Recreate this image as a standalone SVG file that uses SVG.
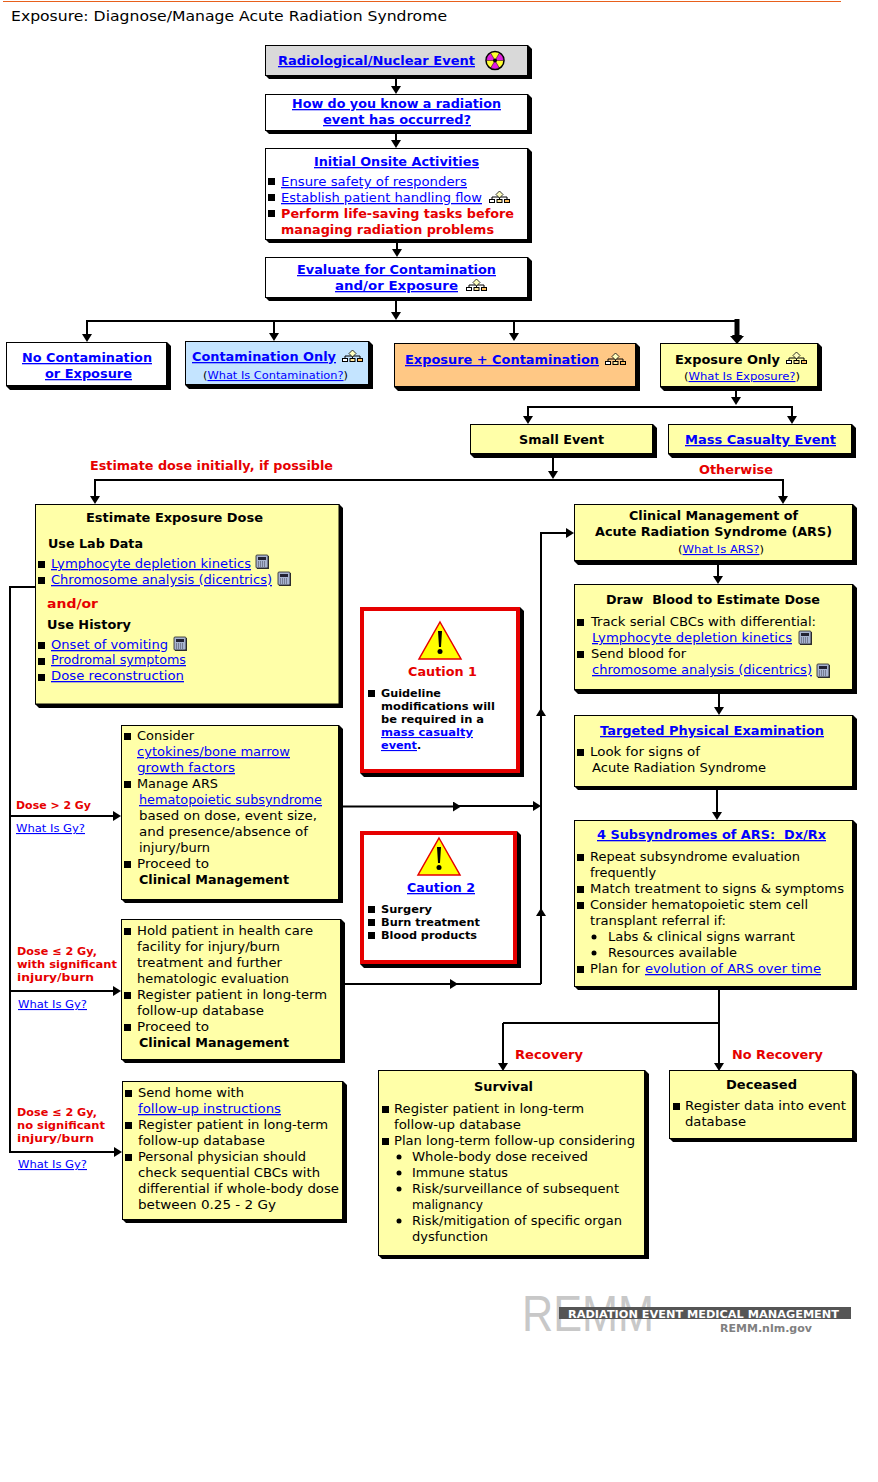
<svg xmlns="http://www.w3.org/2000/svg" width="878" height="1482" viewBox="0 0 878 1482">
<style>
text{font-family:"DejaVu Sans",Verdana,sans-serif;font-size:13px;fill:#000;}
.b{font-weight:bold}
.l{fill:#00f;text-decoration:underline}
.lb{fill:#00f;text-decoration:underline;font-weight:bold}
.r{fill:#e60000;font-weight:bold}
.s{font-size:11px}
.m{font-size:11px;font-weight:bold}
.ml{font-size:11px;font-weight:bold;fill:#00f;text-decoration:underline}
.mr{font-size:11px;font-weight:bold;fill:#e60000}
.box{stroke:#000;stroke-width:1}
.white{fill:#fff}.yel{fill:#ffffa8}.gray{fill:#d9d9d9}.blu{fill:#c4e4ff}.ora{fill:#ffc885}
.line{fill:none;stroke:#000;stroke-width:2}
.arr{marker-end:url(#arrow)}
</style>
<defs>
<marker id="arrow" markerUnits="userSpaceOnUse" viewBox="0 0 8 10" refX="4" refY="5" markerWidth="8" markerHeight="10" orient="auto"><polygon points="0,0 8,5 0,10" fill="#000"/></marker>
<rect id="sq" y="-2" width="7" height="7" fill="#000"/>
<circle id="dot" r="2.5" fill="#000"/>
<g id="flow"><path d="M10.5 3V6M3 10V6H18V10M10.5 6V9" fill="none" stroke="#000" stroke-width="1"/><polygon points="10.5,0 14,3.500 10.500,7 7,3.500" fill="#ffffc0" stroke="#000" stroke-width=".8"/><rect x=".5" y="8.500" width="5" height="3" fill="#fff" stroke="#000"/><rect x="8" y="8.500" width="5" height="3" fill="#ffe8a0" stroke="#000"/><rect x="15.500" y="8.500" width="5" height="3" fill="#ffc060" stroke="#000"/></g>
<g id="calc"><rect x="1" y="1" width="12" height="13" fill="#333"/><rect x="0" y="0" width="12" height="13" rx="1" fill="#a8b4d0" stroke="#222" stroke-width=".8"/><rect x="2" y="2" width="8" height="3" fill="#223"/><path d="M2 7H10M2 9H10M2 11H10" stroke="#445" stroke-width="1" stroke-dasharray="1 1"/></g>
<g id="warn"><polygon points="21,0 42,37 0,37" fill="#ffff00" stroke="#e60000" stroke-width="1.500"/><polygon points="19,9 23,9 22,25 20,25" fill="#000"/><circle cx="21" cy="29.500" r="2.500" fill="#000"/></g>
</defs>
<rect width="878" height="1482" fill="#fff"/>
<line x1="3" y1="1.500" x2="841" y2="1.500" stroke="#e8601c" stroke-width="1"/>
<text id="title" x="11" y="21" style="font-size:14px" textLength="436" lengthAdjust="spacingAndGlyphs">Exposure: Diagnose/Manage Acute Radiation Syndrome</text>

<g id="connectors">
<path class="line arr" d="M396 79V90"/><path class="line arr" d="M396 134V144"/><path class="line arr" d="M397 243V253"/>
<path class="line arr" d="M396 301V316"/>
<path class="line" d="M87 321H737"/>
<path class="line arr" d="M87 320V338"/><path class="line arr" d="M274 320V337"/><path class="line arr" d="M514 320V337"/>
<path class="line arr" d="M737 320V339"/><path d="M737 319V338" stroke="#000" stroke-width="5" fill="none"/><polygon points="730,336 744,336 737,344" fill="#000"/>
<path class="line arr" d="M736 390V401"/>
<path class="line" d="M528 407H792"/>
<path class="line arr" d="M528 406V420"/><path class="line arr" d="M792 406V420"/>
<path class="line arr" d="M553 458V475"/>
<path class="line" d="M95 480H783"/>
<path class="line arr" d="M95 479V500"/><path class="line arr" d="M783 479V500"/>
<path class="line arr" d="M718 565V580"/><path class="line arr" d="M719 694V711"/><path class="line arr" d="M717 790V816"/>
<path class="line" d="M719 990V1023H503"/>
<path class="line arr" d="M503 1023V1067"/><path class="line arr" d="M719 1023V1067"/>
<path class="line arr" d="M541 984V533H570"/>
<path class="line arr" d="M541 720V712"/><path class="line arr" d="M541 920V912"/>
<path class="line arr" d="M343 806.500H457"/><path class="line arr" d="M457 806H537"/>
<path class="line arr" d="M345 984H454"/><path class="line" d="M454 984H541"/>
<path class="line" d="M36 587H10V1152H118"/>
<path class="line arr" d="M10 816H117"/><path class="line arr" d="M10 991H117"/><path class="line arr" d="M110 1152H118"/>
</g>

<g id="n-radiological">
<polygon points="265,45 528,45 532,49 532,79 269,79 265,75" fill="#000"/><rect class="box gray" x="265.500" y="45.500" width="262" height="30"/>
<text class="lb" x="278" y="65" textLength="197" lengthAdjust="spacingAndGlyphs">Radiological/Nuclear Event</text>
<g transform="translate(495 60.500)"><circle r="9" fill="#ffff30" stroke="#000" stroke-width="1.500"/><path d="M0 0L4.250 7.360A8.500 8.500 0 0 1 -4.250 7.360ZM0 0L4.250 -7.360A8.500 8.500 0 0 1 8.500 0ZM0 0L-8.500 0A8.500 8.500 0 0 1 -4.250 -7.360Z" fill="#e020e0" stroke="#000" stroke-width=".5"/><circle r="2" fill="#000"/></g>
</g>
<g id="n-how">
<polygon points="265,94 528,94 532,98 532,134 269,134 265,130" fill="#000"/><rect class="box white" x="265.500" y="94.500" width="262" height="36"/>
<text class="lb" x="292" y="108" textLength="209" lengthAdjust="spacingAndGlyphs">How do you know a radiation</text>
<text class="lb" x="323" y="124" textLength="148" lengthAdjust="spacingAndGlyphs">event has occurred?</text>
</g>
<g id="n-initial">
<polygon points="265,148 528,148 532,152 532,243 269,243 265,239" fill="#000"/><rect class="box white" x="265.500" y="148.500" width="262" height="91"/>
<text class="lb" x="314" y="166" textLength="165" lengthAdjust="spacingAndGlyphs">Initial Onsite Activities</text>
<use href="#sq" x="268" y="180"/><use href="#sq" x="268" y="196"/><use href="#sq" x="268" y="212"/>
<text class="l" x="281" y="186" textLength="186" lengthAdjust="spacingAndGlyphs">Ensure safety of responders</text>
<text class="l" x="281" y="202" textLength="201" lengthAdjust="spacingAndGlyphs">Establish patient handling flow</text>
<use href="#flow" x="489" y="191"/>
<text class="r" x="281" y="218" textLength="233" lengthAdjust="spacingAndGlyphs">Perform life-saving tasks before</text>
<text class="r" x="281" y="234" textLength="213" lengthAdjust="spacingAndGlyphs">managing radiation problems</text>
</g>
<g id="n-evaluate">
<polygon points="265,257 528,257 532,261 532,301 269,301 265,297" fill="#000"/><rect class="box white" x="265.500" y="257.500" width="262" height="40"/>
<text class="lb" x="297" y="274" textLength="199" lengthAdjust="spacingAndGlyphs">Evaluate for Contamination</text>
<text class="lb" x="335" y="290" textLength="123" lengthAdjust="spacingAndGlyphs">and/or Exposure</text>
<use href="#flow" x="466" y="279"/>
</g>
<g id="n-nocontam">
<polygon points="6,342 167,342 171,346 171,390 10,390 6,386" fill="#000"/><rect class="box white" x="6.500" y="342.500" width="160" height="43"/>
<text class="lb" x="22" y="362" textLength="130" lengthAdjust="spacingAndGlyphs">No Contamination</text>
<text class="lb" x="45" y="378" textLength="87" lengthAdjust="spacingAndGlyphs">or Exposure</text>
</g>
<g id="n-contam">
<polygon points="185,341 369,341 373,345 373,389 189,389 185,385" fill="#000"/><rect class="box blu" x="185.500" y="341.500" width="183" height="43"/>
<text class="lb" x="192" y="361" textLength="144" lengthAdjust="spacingAndGlyphs">Contamination Only</text>
<use href="#flow" x="342" y="350"/>
<text class="s" x="203" y="379" textLength="145" lengthAdjust="spacingAndGlyphs">(<tspan class="l">What Is Contamination?</tspan>)</text>
</g>
<g id="n-expcontam">
<polygon points="394,343 636,343 640,347 640,391 398,391 394,387" fill="#000"/><rect class="box ora" x="394.500" y="343.500" width="241" height="43"/>
<text class="lb" x="405" y="364" textLength="194" lengthAdjust="spacingAndGlyphs">Exposure + Contamination</text>
<use href="#flow" x="605" y="353"/>
</g>
<g id="n-exponly">
<polygon points="660,343 818,343 822,347 822,391 664,391 660,387" fill="#000"/><rect class="box yel" x="660.500" y="343.500" width="157" height="43"/>
<text class="b" x="675" y="364" textLength="105" lengthAdjust="spacingAndGlyphs">Exposure Only</text>
<use href="#flow" x="786" y="352"/>
<text class="s" x="684" y="380" textLength="116" lengthAdjust="spacingAndGlyphs">(<tspan class="l">What Is Exposure?</tspan>)</text>
</g>
<g id="n-small">
<polygon points="470,424 653,424 657,428 657,458 474,458 470,454" fill="#000"/><rect class="box yel" x="470.500" y="424.500" width="182" height="29"/>
<text class="b" x="519" y="444" textLength="85" lengthAdjust="spacingAndGlyphs">Small Event</text>
</g>
<g id="n-mass">
<polygon points="668,424 852,424 856,428 856,458 672,458 668,454" fill="#000"/><rect class="box yel" x="668.500" y="424.500" width="183" height="29"/>
<text class="lb" x="685" y="444" textLength="151" lengthAdjust="spacingAndGlyphs">Mass Casualty Event</text>
</g>
<text class="r" x="90" y="470" textLength="243" lengthAdjust="spacingAndGlyphs">Estimate dose initially, if possible</text>
<text class="r" x="699" y="474" textLength="74" lengthAdjust="spacingAndGlyphs">Otherwise</text>
<g id="n-clinical">
<polygon points="574,504 853,504 857,508 857,565 578,565 574,561" fill="#000"/><rect class="box yel" x="574.500" y="504.500" width="278" height="56"/>
<text class="b" x="629" y="520" textLength="169" lengthAdjust="spacingAndGlyphs">Clinical Management of</text>
<text class="b" x="595" y="536" textLength="237" lengthAdjust="spacingAndGlyphs">Acute Radiation Syndrome (ARS)</text>
<text class="s" x="678" y="553" textLength="86" lengthAdjust="spacingAndGlyphs">(<tspan class="l">What Is ARS?</tspan>)</text>
</g>
<g id="n-draw">
<polygon points="574,584 853,584 857,588 857,694 578,694 574,690" fill="#000"/><rect class="box yel" x="574.500" y="584.500" width="278" height="105"/>
<text class="b" x="606" y="604" textLength="214" lengthAdjust="spacingAndGlyphs" xml:space="preserve">Draw  Blood to Estimate Dose</text>
<use href="#sq" x="577" y="621"/><use href="#sq" x="577" y="653"/>
<text x="591" y="626" textLength="225" lengthAdjust="spacingAndGlyphs">Track serial CBCs with differential:</text>
<text class="l" x="592" y="642" textLength="200" lengthAdjust="spacingAndGlyphs">Lymphocyte depletion kinetics</text>
<use href="#calc" x="799" y="631"/>
<text x="591" y="658" textLength="95" lengthAdjust="spacingAndGlyphs">Send blood for</text>
<text class="l" x="592" y="674" textLength="220" lengthAdjust="spacingAndGlyphs">chromosome analysis (dicentrics)</text>
<use href="#calc" x="817" y="664"/>
</g>
<g id="n-targeted">
<polygon points="574,715 853,715 857,719 857,790 578,790 574,786" fill="#000"/><rect class="box yel" x="574.500" y="715.500" width="278" height="71"/>
<text class="lb" x="600" y="735" textLength="224" lengthAdjust="spacingAndGlyphs">Targeted Physical Examination</text>
<use href="#sq" x="577" y="751"/>
<text x="590" y="756" textLength="110" lengthAdjust="spacingAndGlyphs">Look for signs of</text>
<text x="592" y="772" textLength="174" lengthAdjust="spacingAndGlyphs">Acute Radiation Syndrome</text>
</g>
<g id="n-subsyndromes">
<polygon points="574,820 853,820 857,824 857,990 578,990 574,986" fill="#000"/><rect class="box yel" x="574.500" y="820.500" width="278" height="166"/>
<text class="lb" x="597" y="839" textLength="229" lengthAdjust="spacingAndGlyphs" xml:space="preserve">4 Subsyndromes of ARS:  Dx/Rx</text>
<use href="#sq" x="577" y="856"/><use href="#sq" x="577" y="888"/><use href="#sq" x="577" y="904"/><use href="#sq" x="577" y="968"/>
<use href="#dot" x="594" y="937"/><use href="#dot" x="594" y="953"/>
<text x="590" y="861" textLength="210" lengthAdjust="spacingAndGlyphs">Repeat subsyndrome evaluation</text>
<text x="590" y="877" textLength="66" lengthAdjust="spacingAndGlyphs">frequently</text>
<text x="590" y="893" textLength="254" lengthAdjust="spacingAndGlyphs">Match treatment to signs &amp; symptoms</text>
<text x="590" y="909" textLength="218" lengthAdjust="spacingAndGlyphs">Consider hematopoietic stem cell</text>
<text x="590" y="925" textLength="136" lengthAdjust="spacingAndGlyphs">transplant referral if:</text>
<text x="608" y="941" textLength="187" lengthAdjust="spacingAndGlyphs">Labs &amp; clinical signs warrant</text>
<text x="608" y="957" textLength="129" lengthAdjust="spacingAndGlyphs">Resources available</text>
<text x="590" y="973" textLength="50" lengthAdjust="spacingAndGlyphs">Plan for</text>
<text class="l" x="645" y="973" textLength="176" lengthAdjust="spacingAndGlyphs">evolution of ARS over time</text>
</g>
<g id="n-estimate">
<polygon points="35,504 339,504 343,508 343,708 39,708 35,704" fill="#000"/><rect class="box yel" x="35.500" y="504.500" width="303.500" height="199.500"/>
<text class="b" x="86" y="522" textLength="177" lengthAdjust="spacingAndGlyphs">Estimate Exposure Dose</text>
<text class="b" x="48" y="548" textLength="95" lengthAdjust="spacingAndGlyphs">Use Lab Data</text>
<use href="#sq" x="38" y="563"/><use href="#sq" x="38" y="579"/><use href="#sq" x="38" y="644"/><use href="#sq" x="38" y="660"/><use href="#sq" x="38" y="676"/>
<text class="l" x="51" y="568" textLength="200" lengthAdjust="spacingAndGlyphs">Lymphocyte depletion kinetics</text>
<use href="#calc" x="256" y="555"/>
<text class="l" x="51" y="584" textLength="221" lengthAdjust="spacingAndGlyphs">Chromosome analysis (dicentrics)</text>
<use href="#calc" x="278" y="572"/>
<text class="r" x="47" y="608" textLength="51" lengthAdjust="spacingAndGlyphs">and/or</text>
<text class="b" x="47" y="629" textLength="84" lengthAdjust="spacingAndGlyphs">Use History</text>
<text class="l" x="51" y="649" textLength="117" lengthAdjust="spacingAndGlyphs">Onset of vomiting</text>
<use href="#calc" x="174" y="637"/>
<text class="l" x="51" y="664" textLength="135" lengthAdjust="spacingAndGlyphs">Prodromal symptoms</text>
<text class="l" x="51" y="680" textLength="133" lengthAdjust="spacingAndGlyphs">Dose reconstruction</text>
</g>
<g id="n-caution1">
<polygon points="360,607 520,607 524,611 524,777 364,777 360,773" fill="#000"/><rect x="362" y="609" width="156" height="162" fill="#fff" stroke="#e60000" stroke-width="4"/>
<use href="#warn" x="419" y="622"/>
<text x="408" y="676" style="fill:#e60000;font-weight:bold" textLength="69" lengthAdjust="spacingAndGlyphs">Caution 1</text>
<use href="#sq" x="368" y="692"/>
<text class="m" x="381" y="697" textLength="60" lengthAdjust="spacingAndGlyphs">Guideline</text>
<text class="m" x="381" y="710" textLength="114" lengthAdjust="spacingAndGlyphs">modifications will</text>
<text class="m" x="381" y="723" textLength="103" lengthAdjust="spacingAndGlyphs">be required in a</text>
<text class="ml" x="381" y="736" textLength="92" lengthAdjust="spacingAndGlyphs">mass casualty</text>
<text class="ml" x="381" y="749" textLength="36" lengthAdjust="spacingAndGlyphs">event</text><text class="m" x="417" y="749">.</text>
</g>
<g id="n-caution2">
<polygon points="360,831 517,831 521,835 521,968 364,968 360,964" fill="#000"/><rect x="362" y="833" width="153" height="129" fill="#fff" stroke="#e60000" stroke-width="4"/>
<use href="#warn" x="418" y="838"/>
<text class="lb" x="407" y="892" textLength="68" lengthAdjust="spacingAndGlyphs">Caution 2</text>
<use href="#sq" x="368" y="908"/><use href="#sq" x="368" y="921"/><use href="#sq" x="368" y="934"/>
<text class="m" x="381" y="913" textLength="51" lengthAdjust="spacingAndGlyphs">Surgery</text>
<text class="m" x="381" y="926" textLength="99" lengthAdjust="spacingAndGlyphs">Burn treatment</text>
<text class="m" x="381" y="939" textLength="96" lengthAdjust="spacingAndGlyphs">Blood products</text>
</g>
<g id="n-consider">
<polygon points="121,725 339,725 343,729 343,903 125,903 121,899" fill="#000"/><rect class="box yel" x="121.500" y="725.500" width="217" height="174"/>
<use href="#sq" x="124" y="735"/><use href="#sq" x="124" y="783"/><use href="#sq" x="124" y="863"/>
<text x="137" y="740" textLength="57" lengthAdjust="spacingAndGlyphs">Consider</text>
<text class="l" x="137" y="756" textLength="153" lengthAdjust="spacingAndGlyphs">cytokines/bone marrow</text>
<text class="l" x="137" y="772" textLength="98" lengthAdjust="spacingAndGlyphs">growth factors</text>
<text x="137" y="788" textLength="81" lengthAdjust="spacingAndGlyphs">Manage ARS</text>
<text class="l" x="139" y="804" textLength="183" lengthAdjust="spacingAndGlyphs">hematopoietic subsyndrome</text>
<text x="139" y="820" textLength="178" lengthAdjust="spacingAndGlyphs">based on dose, event size,</text>
<text x="139" y="836" textLength="169" lengthAdjust="spacingAndGlyphs">and presence/absence of</text>
<text x="139" y="852" textLength="71" lengthAdjust="spacingAndGlyphs">injury/burn</text>
<text x="137" y="868" textLength="72" lengthAdjust="spacingAndGlyphs">Proceed to</text>
<text class="b" x="139" y="884" textLength="150" lengthAdjust="spacingAndGlyphs">Clinical Management</text>
</g>
<g id="n-hold">
<polygon points="121,919 341,919 345,923 345,1063 125,1063 121,1059" fill="#000"/><rect class="box yel" x="121.500" y="919.500" width="219" height="140"/>
<use href="#sq" x="124" y="930"/><use href="#sq" x="124" y="994"/><use href="#sq" x="124" y="1026"/>
<text x="137" y="935" textLength="176" lengthAdjust="spacingAndGlyphs">Hold patient in health care</text>
<text x="137" y="951" textLength="143" lengthAdjust="spacingAndGlyphs">facility for injury/burn</text>
<text x="137" y="967" textLength="145" lengthAdjust="spacingAndGlyphs">treatment and further</text>
<text x="137" y="983" textLength="152" lengthAdjust="spacingAndGlyphs">hematologic evaluation</text>
<text x="137" y="999" textLength="190" lengthAdjust="spacingAndGlyphs">Register patient in long-term</text>
<text x="137" y="1015" textLength="127" lengthAdjust="spacingAndGlyphs">follow-up database</text>
<text x="137" y="1031" textLength="72" lengthAdjust="spacingAndGlyphs">Proceed to</text>
<text class="b" x="139" y="1047" textLength="150" lengthAdjust="spacingAndGlyphs">Clinical Management</text>
</g>
<g id="n-send">
<polygon points="122,1081 343,1081 347,1085 347,1223 126,1223 122,1219" fill="#000"/><rect class="box yel" x="122.500" y="1081.500" width="220" height="138"/>
<use href="#sq" x="125" y="1092"/><use href="#sq" x="125" y="1124"/><use href="#sq" x="125" y="1156"/>
<text x="138" y="1097" textLength="106" lengthAdjust="spacingAndGlyphs">Send home with</text>
<text class="l" x="138" y="1113" textLength="143" lengthAdjust="spacingAndGlyphs">follow-up instructions</text>
<text x="138" y="1129" textLength="190" lengthAdjust="spacingAndGlyphs">Register patient in long-term</text>
<text x="138" y="1145" textLength="127" lengthAdjust="spacingAndGlyphs">follow-up database</text>
<text x="138" y="1161" textLength="168" lengthAdjust="spacingAndGlyphs">Personal physician should</text>
<text x="138" y="1177" textLength="182" lengthAdjust="spacingAndGlyphs">check sequential CBCs with</text>
<text x="138" y="1193" textLength="201" lengthAdjust="spacingAndGlyphs">differential if whole-body dose</text>
<text x="138" y="1209" textLength="138" lengthAdjust="spacingAndGlyphs">between 0.25 - 2 Gy</text>
</g>
<g id="dose-labels">
<text class="mr" x="16" y="809" textLength="75" lengthAdjust="spacingAndGlyphs">Dose &gt; 2 Gy</text>
<text class="s l" x="16" y="832" textLength="69" lengthAdjust="spacingAndGlyphs">What Is Gy?</text>
<text class="mr" x="17" y="955" textLength="80" lengthAdjust="spacingAndGlyphs">Dose ≤ 2 Gy,</text>
<text class="mr" x="17" y="968" textLength="100" lengthAdjust="spacingAndGlyphs">with significant</text>
<text class="mr" x="17" y="981" textLength="77" lengthAdjust="spacingAndGlyphs">injury/burn</text>
<text class="s l" x="18" y="1008" textLength="69" lengthAdjust="spacingAndGlyphs">What Is Gy?</text>
<text class="mr" x="17" y="1116" textLength="80" lengthAdjust="spacingAndGlyphs">Dose ≤ 2 Gy,</text>
<text class="mr" x="17" y="1129" textLength="88" lengthAdjust="spacingAndGlyphs">no significant</text>
<text class="mr" x="17" y="1142" textLength="77" lengthAdjust="spacingAndGlyphs">injury/burn</text>
<text class="s l" x="18" y="1168" textLength="69" lengthAdjust="spacingAndGlyphs">What Is Gy?</text>
</g>
<text class="r" x="515" y="1059" textLength="68" lengthAdjust="spacingAndGlyphs">Recovery</text>
<text class="r" x="732" y="1059" textLength="91" lengthAdjust="spacingAndGlyphs">No Recovery</text>
<g id="n-survival">
<polygon points="378,1070 645,1070 649,1074 649,1259 382,1259 378,1255" fill="#000"/><rect class="box yel" x="378.500" y="1070.500" width="266" height="185"/>
<text class="b" x="474" y="1091" textLength="59" lengthAdjust="spacingAndGlyphs">Survival</text>
<use href="#sq" x="382" y="1108"/><use href="#sq" x="382" y="1140"/>
<use href="#dot" x="399" y="1157"/><use href="#dot" x="399" y="1173"/><use href="#dot" x="399" y="1189"/><use href="#dot" x="399" y="1221"/>
<text x="394" y="1113" textLength="190" lengthAdjust="spacingAndGlyphs">Register patient in long-term</text>
<text x="394" y="1129" textLength="127" lengthAdjust="spacingAndGlyphs">follow-up database</text>
<text x="394" y="1145" textLength="241" lengthAdjust="spacingAndGlyphs">Plan long-term follow-up considering</text>
<text x="412" y="1161" textLength="176" lengthAdjust="spacingAndGlyphs">Whole-body dose received</text>
<text x="412" y="1177" textLength="96" lengthAdjust="spacingAndGlyphs">Immune status</text>
<text x="412" y="1193" textLength="207" lengthAdjust="spacingAndGlyphs">Risk/surveillance of subsequent</text>
<text x="412" y="1209" textLength="71" lengthAdjust="spacingAndGlyphs">malignancy</text>
<text x="412" y="1225" textLength="210" lengthAdjust="spacingAndGlyphs">Risk/mitigation of specific organ</text>
<text x="412" y="1241" textLength="76" lengthAdjust="spacingAndGlyphs">dysfunction</text>
</g>
<g id="n-deceased">
<polygon points="669,1070 853,1070 857,1074 857,1142 673,1142 669,1138" fill="#000"/><rect class="box yel" x="669.500" y="1070.500" width="183" height="68"/>
<text class="b" x="726" y="1089" textLength="71" lengthAdjust="spacingAndGlyphs">Deceased</text>
<use href="#sq" x="673" y="1105"/>
<text x="685" y="1110" textLength="161" lengthAdjust="spacingAndGlyphs">Register data into event</text>
<text x="685" y="1126" textLength="61" lengthAdjust="spacingAndGlyphs">database</text>
</g>
<g id="logo">
<text x="522" y="1331" style="font-family:'Liberation Sans',Arial,sans-serif;font-size:50px;fill:#c8c8c8" textLength="132" lengthAdjust="spacingAndGlyphs">REMM</text>
<rect x="559" y="1307" width="292" height="12" fill="#555"/>
<text x="568" y="1318" style="font-size:11px;font-weight:bold;fill:#fff" textLength="271" lengthAdjust="spacingAndGlyphs">RADIATION EVENT MEDICAL MANAGEMENT</text>
<text x="720" y="1332" style="font-size:11px;font-weight:bold;fill:#808080" textLength="92" lengthAdjust="spacingAndGlyphs">REMM.nlm.gov</text>
</g>
</svg>
